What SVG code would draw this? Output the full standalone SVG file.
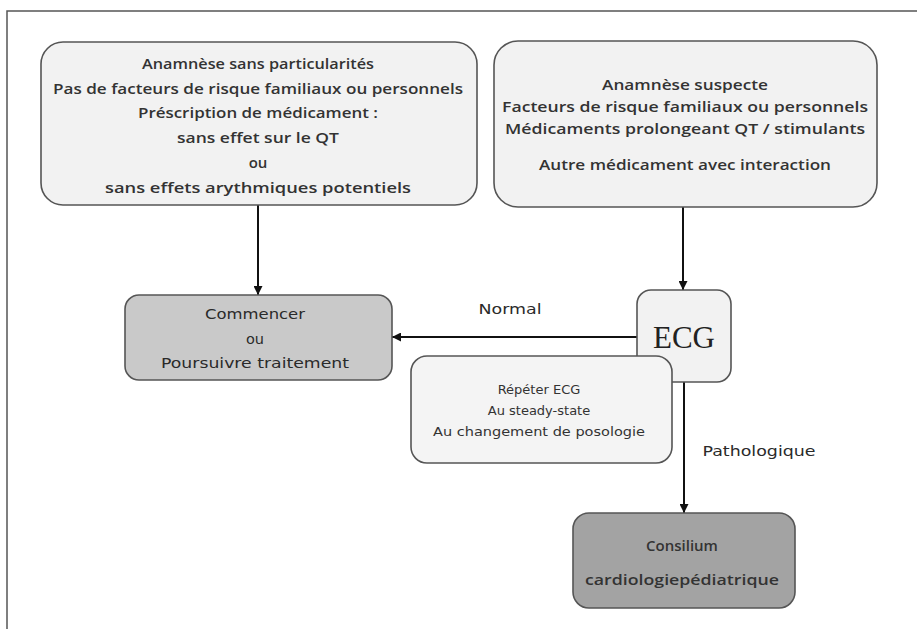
<svg xmlns="http://www.w3.org/2000/svg" width="917" height="629" viewBox="0 0 917 629">
<defs>
<marker id="ah" viewBox="0 0 10 10" refX="10" refY="5" markerWidth="9" markerHeight="9" markerUnits="userSpaceOnUse" orient="auto">
<path d="M0,0 L10,5 L0,10 z" fill="#111"/>
</marker>
<style>
.box{stroke:#555;stroke-width:1.6}
.light{fill:#f2f2f2}
.mid{fill:#c9c9c9}
.dark{fill:#a3a3a3}
text{font-family:"Open Sans","Liberation Sans",sans-serif;fill:#333;text-anchor:middle;dominant-baseline:central}
.t1{font-size:15px;font-weight:600}
.t2{font-size:14.5px;font-weight:400;fill:#2a2a2a;font-family:"DejaVu Sans","Liberation Sans",sans-serif}
.t3{font-size:13px;font-weight:400;font-family:"DejaVu Sans","Liberation Sans",sans-serif}
.lbl{font-size:14.5px;font-weight:400;fill:#2a2a2a;font-family:"DejaVu Sans","Liberation Sans",sans-serif}
.ecg{font-family:"Liberation Serif",serif;font-size:31px;fill:#222}
.conn{stroke:#111;stroke-width:2;fill:none}
</style>
</defs>
<rect width="917" height="629" fill="#fff"/>
<path d="M7,629 V11 H917" fill="none" stroke="#555" stroke-width="1.5"/>

<g id="connectors">
<line class="conn" x1="258" y1="205" x2="258" y2="295" marker-end="url(#ah)"/>
<line class="conn" x1="683" y1="207" x2="683" y2="290" marker-end="url(#ah)"/>
<line class="conn" x1="637" y1="337" x2="392" y2="337" marker-end="url(#ah)"/>
<line class="conn" x1="684" y1="382" x2="684" y2="513" marker-end="url(#ah)"/>
<text class="lbl" x="510" y="309" textLength="63" lengthAdjust="spacingAndGlyphs">Normal</text>
<text class="lbl" x="759" y="451" textLength="113" lengthAdjust="spacingAndGlyphs">Pathologique</text>
</g>

<g id="box-anamnese-normale">
<rect class="box light" x="41" y="42" width="436" height="163" rx="22"/>
<text class="t1" x="258" y="63" textLength="232" lengthAdjust="spacingAndGlyphs">Anamnèse sans particularités</text>
<text class="t1" x="258" y="88" textLength="410" lengthAdjust="spacingAndGlyphs">Pas de facteurs de risque familiaux ou personnels</text>
<text class="t1" x="258" y="112" textLength="240" lengthAdjust="spacingAndGlyphs">Préscription de médicament :</text>
<text class="t1" x="258" y="137" textLength="162" lengthAdjust="spacingAndGlyphs">sans effet sur le QT</text>
<text class="t1" x="258" y="162">ou</text>
<text class="t1" x="258" y="187" textLength="306" lengthAdjust="spacingAndGlyphs">sans effets arythmiques potentiels</text>
</g>

<g id="box-anamnese-suspecte">
<rect class="box light" x="494" y="41" width="383" height="166" rx="24"/>
<text class="t1" x="685" y="84" textLength="166" lengthAdjust="spacingAndGlyphs">Anamnèse suspecte</text>
<text class="t1" x="685" y="106" textLength="366" lengthAdjust="spacingAndGlyphs">Facteurs de risque familiaux ou personnels</text>
<text class="t1" x="685" y="128" textLength="360" lengthAdjust="spacingAndGlyphs">Médicaments prolongeant QT / stimulants</text>
<text class="t1" x="685" y="164" textLength="292" lengthAdjust="spacingAndGlyphs">Autre médicament avec interaction</text>
</g>

<g id="box-commencer">
<rect class="box mid" x="125" y="295" width="267" height="85" rx="14"/>
<text class="t2" x="255" y="314" textLength="100" lengthAdjust="spacingAndGlyphs">Commencer</text>
<text class="t2" x="255" y="339">ou</text>
<text class="t2" x="255" y="363" textLength="188" lengthAdjust="spacingAndGlyphs">Poursuivre  traitement</text>
</g>

<g id="box-ecg">
<rect class="box light" x="637" y="290" width="94" height="92" rx="14"/>
<text class="ecg" x="684" y="337">ECG</text>
</g>

<g id="box-repeter">
<rect class="box" fill="#f4f4f4" x="411" y="356" width="261" height="107" rx="16"/>
<text class="t3" x="539" y="389">Répéter ECG</text>
<text class="t3" x="539" y="410">Au steady-state</text>
<text class="t3" x="539" y="431" textLength="212" lengthAdjust="spacingAndGlyphs">Au changement de posologie</text>
</g>

<g id="box-consilium">
<rect class="box dark" x="573" y="513" width="222" height="95" rx="16"/>
<text class="t1" x="682" y="545">Consilium</text>
<text class="t1" x="682" y="579" textLength="194" lengthAdjust="spacingAndGlyphs">cardiologiepédiatrique</text>
</g>
</svg>
